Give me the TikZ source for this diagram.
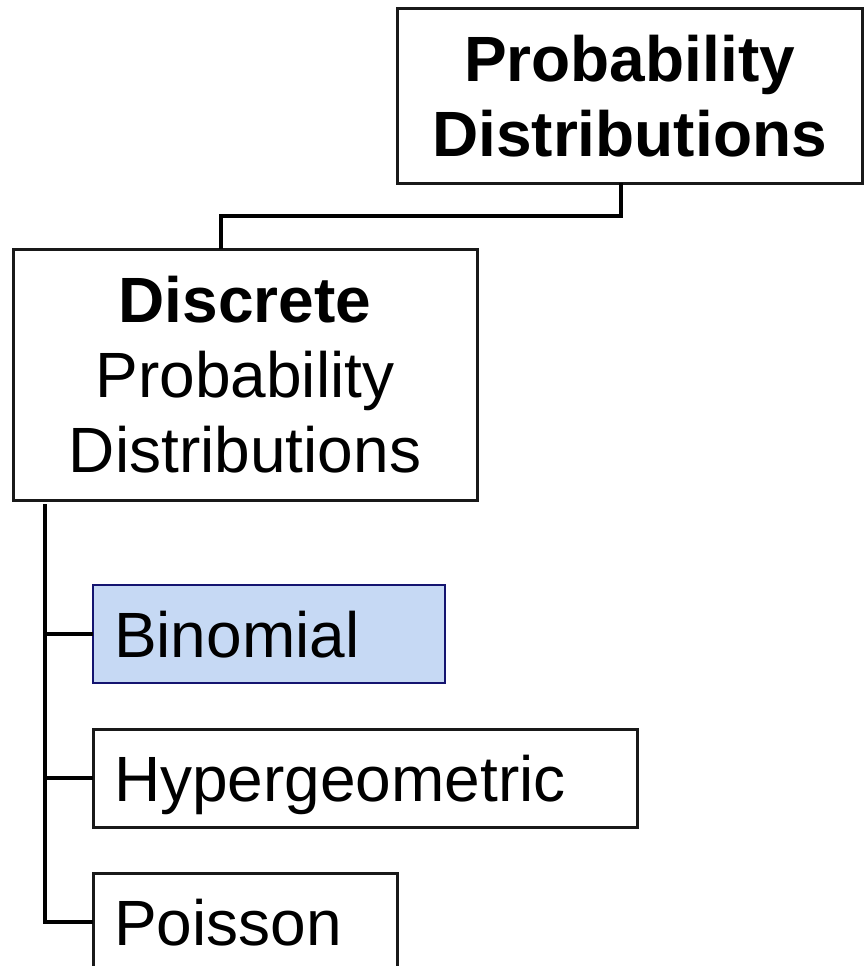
\documentclass[tikz,border=0pt]{standalone}
\usepackage{fontspec}
\setmainfont{Liberation Sans}
\usetikzlibrary{positioning}

\definecolor{binfill}{HTML}{C6D9F4}
\definecolor{binline}{HTML}{141470}

\begin{document}
\begin{tikzpicture}[
        x=1pt, y=-1pt,
    mybox/.style={
        draw=black!90,
        line width=3pt,
        outer sep=0pt,
        inner sep=0pt,
        align=center,
        font=\fontsize{64}{75}\selectfont},
    myleaf/.style={
        mybox,
        anchor=north west,
        text width=#1,
        inner xsep=21pt,
        minimum height=98pt,
        text height=46pt,
        text depth=0pt,
        align=left},
    mylink/.style={line width=4pt},
    node distance=46pt
    ]
    \useasboundingbox (0,0) rectangle (863,966);

    \node[mybox,minimum width=465pt,minimum height=174pt] (prob) at (629.5,96) {\textbf{Probability}\\\textbf{Distributions}};
    \node[mybox,minimum width=464pt,minimum height=251pt] (disc) at (245,374.5) {\textbf{Discrete}\\Probability\\Distributions};
    \node[myleaf=310pt,fill=binfill,draw=binline,line width=2.5pt] (bin) at (93,585) {Binomial};
    \node[myleaf=502pt,below=of bin.south west,anchor=north west] (hyp) {Hypergeometric};
    \node[myleaf=262pt,below=of hyp.south west,anchor=north west] (poi) {Poisson};

    \draw[mylink] ([xshift=-8.5pt]prob.south) -- ++(0,33) -| ([xshift=-24pt]disc.north);

    \coordinate (tr) at ([xshift=32pt,yshift=-4pt]disc.south west);
    \draw[mylink] (tr) |- (poi.west);
    \foreach \leaf in {bin,hyp}
        \draw[mylink] (tr |- \leaf.west) -- (\leaf.west);
\end{tikzpicture}
\end{document}
